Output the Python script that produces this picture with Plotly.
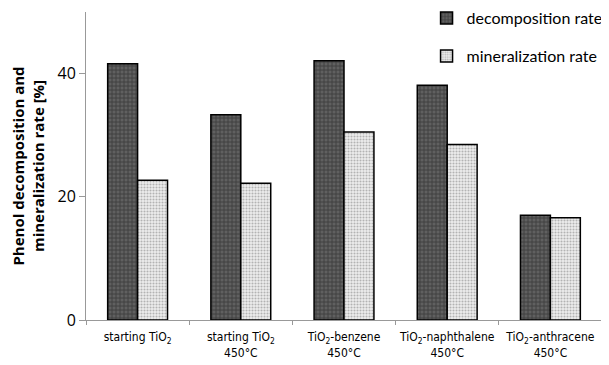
import plotly.graph_objects as go

categories = ["starting TiO<sub>2</sub>", "starting TiO<sub>2</sub><br>450°C",
              "TiO<sub>2</sub>-benzene<br>450°C", "TiO<sub>2</sub>-naphthalene<br>450°C",
              "TiO<sub>2</sub>-anthracene<br>450°C"]
decomposition = [41.6, 33.3, 42.1, 38.1, 17.0]
mineralization = [22.7, 22.2, 30.5, 28.5, 16.6]
y_ticks = [0, 20, 40]

fig = go.Figure()
fig.add_bar(x=categories, y=decomposition, name="decomposition rate", legendgroup="dec",
            marker=dict(color="#404040", line=dict(color="black", width=1.5),
                        pattern=dict(shape="+", fgcolor="#1a1a1a", bgcolor="#606060", size=4, solidity=0.4)))
fig.add_bar(x=categories, y=mineralization, name="mineralization rate", legendgroup="min",
            marker=dict(color="white", line=dict(color="black", width=1.5),
                        pattern=dict(shape=".", fgcolor="#777777", bgcolor="#eeeeee", size=3, solidity=0.4)))

fig.update_layout(
    width=609, height=365, paper_bgcolor="white", plot_bgcolor="white",
    margin=dict(l=78, r=15, t=4, b=53, autoexpand=False),
    barmode="group", bargap=0.42, bargroupgap=0,
    font=dict(family="Open Sans, sans-serif", color="black"),
    legend=dict(x=0.66, y=1.035, xanchor="left", yanchor="top", bgcolor="rgba(0,0,0,0)",
                font=dict(size=16, family="Lato, sans-serif"), tracegroupgap=14,
                itemwidth=30),
    showlegend=True,
)
fig.update_yaxes(range=[0, 50], tickvals=y_ticks, showgrid=False, showline=True, automargin=False,
                 linecolor="#999999", linewidth=1, ticks="outside", ticklen=6, tickcolor="#999999",
                 tickfont=dict(size=16, family="Open Sans, sans-serif"),
                 title=dict(text="<b>Phenol decomposition and<br>mineralization rate [%]</b>",
                            font=dict(size=15, family="Open Sans, sans-serif"), standoff=12),
                 zeroline=False)
fig.update_xaxes(showline=True, linecolor="#999999", linewidth=1, ticks="outside", ticklen=4,
                 tickcolor="#999999", tickson="boundaries", tickangle=0, automargin=False,
                 ticklabelstandoff=6,
                 tickfont=dict(size=12, family="DejaVu Sans Condensed, DejaVu Sans, sans-serif"))

fig.write_html("out.html")
